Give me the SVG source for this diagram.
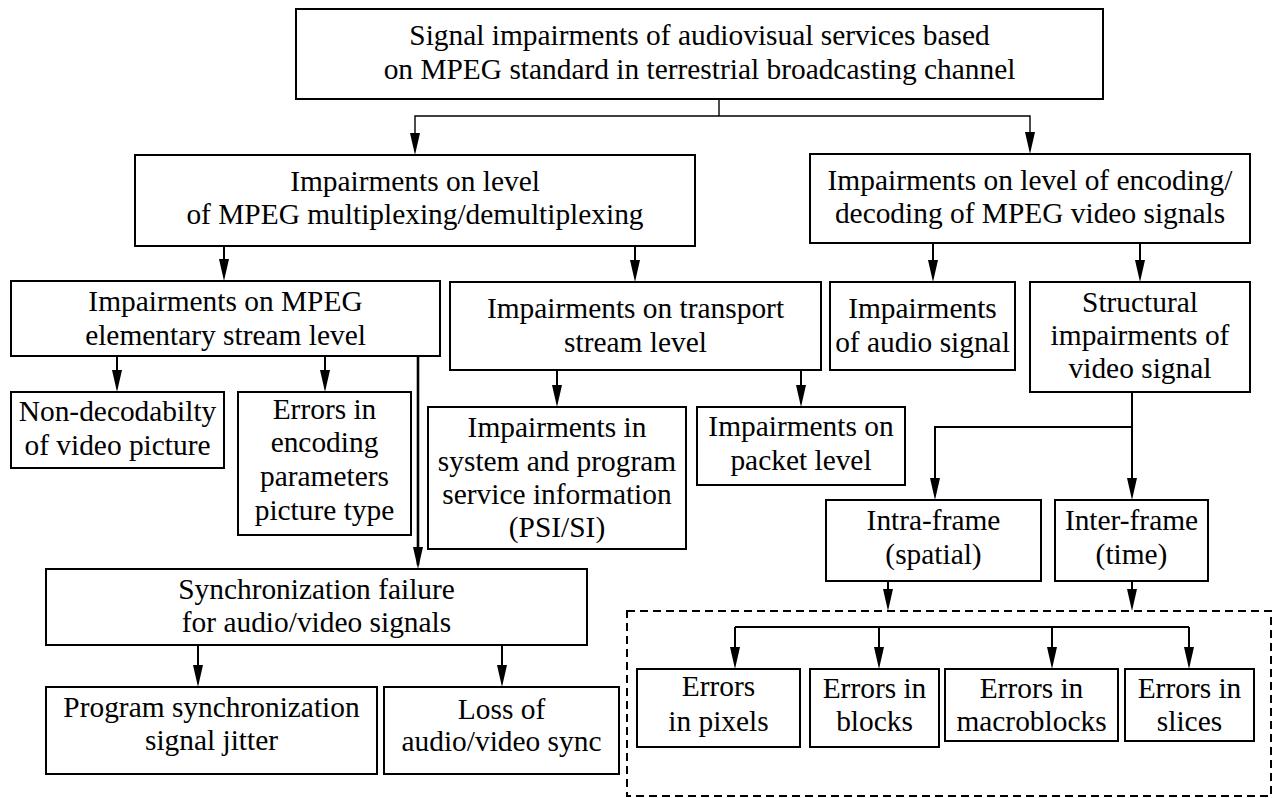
<svg xmlns="http://www.w3.org/2000/svg" width="1273" height="798" viewBox="0 0 1273 798">
<style>
.box{fill:#fff;stroke:#000;stroke-width:2}
.t{font-family:'Liberation Serif','Times New Roman',Times,'DejaVu Serif',serif;font-size:29.4px;fill:#000;text-anchor:middle}
.c{fill:none;stroke:#000;stroke-width:2}
.thin{stroke-width:1.4}
.thick{stroke-width:2.6}
.arr{marker-end:url(#ah)}
.dash{fill:none;stroke:#000;stroke-width:2;stroke-dasharray:8 5}
</style>
<defs>
<marker id="ah" viewBox="0 0 22 10" refX="18" refY="5" markerWidth="22" markerHeight="10" markerUnits="userSpaceOnUse" orient="auto">
<path d="M0,0 L22,5 L0,10 z" fill="#000"/>
</marker>
</defs>
<rect width="1273" height="798" fill="#fff"/>
<g id="connectors">
<polyline class="c thin" points="719,99 719,116"/>
<polyline class="c thin arr" points="719,116 415,116 415,151"/>
<polyline class="c thin arr" points="719,116 1030,116 1030,150"/>
<line class="c arr" x1="224" y1="246" x2="224" y2="277"/>
<line class="c arr" x1="635" y1="246" x2="635" y2="278"/>
<line class="c arr" x1="933" y1="243" x2="933" y2="278"/>
<line class="c arr" x1="1140" y1="243" x2="1140" y2="278"/>
<line class="c arr" x1="117" y1="356" x2="117" y2="388"/>
<line class="c arr" x1="325" y1="356" x2="325" y2="388"/>
<line class="c thick arr" x1="418" y1="356" x2="418" y2="565"/>
<line class="c arr" x1="557" y1="370" x2="557" y2="403"/>
<line class="c arr" x1="801" y1="370" x2="801" y2="403"/>
<line class="c" x1="1132" y1="392" x2="1132" y2="427"/>
<line class="c arr" x1="1132" y1="427" x2="1132" y2="496"/>
<polyline class="c arr" points="1132,427 935,427 935,496"/>
<line class="c arr" x1="888" y1="581" x2="888" y2="607"/>
<line class="c arr" x1="1132" y1="581" x2="1132" y2="607"/>
<line class="c" x1="735" y1="627" x2="1189" y2="627"/>
<line class="c arr" x1="735" y1="627" x2="735" y2="665"/>
<line class="c arr" x1="879" y1="627" x2="879" y2="665"/>
<line class="c arr" x1="1052" y1="627" x2="1052" y2="665"/>
<line class="c arr" x1="1189" y1="627" x2="1189" y2="665"/>
<line class="c arr" x1="198" y1="645" x2="198" y2="683"/>
<line class="c arr" x1="502" y1="645" x2="502" y2="683"/>
</g>
<g id="group-dashed">
<rect class="dash" x="627" y="611" width="644" height="185"/>
</g>
<g id="n-root">
<rect class="box" x="296" y="9" width="807" height="90"/>
<text class="t" x="699.5" y="45">Signal impairments of audiovisual services based</text>
<text class="t" x="699.5" y="79">on MPEG standard in terrestrial broadcasting channel</text>
</g>
<g id="n-mux">
<rect class="box" x="135" y="155" width="560" height="91"/>
<text class="t" x="415" y="191">Impairments on level</text>
<text class="t" x="415" y="224">of MPEG multiplexing/demultiplexing</text>
</g>
<g id="n-enc">
<rect class="box" x="810" y="154" width="440" height="89"/>
<text class="t" x="1030" y="190">Impairments on level of encoding/</text>
<text class="t" x="1030" y="223">decoding of MPEG video signals</text>
</g>
<g id="n-es">
<rect class="box" x="11" y="281" width="429" height="75"/>
<text class="t" x="225.5" y="311">Impairments on MPEG</text>
<text class="t" x="225.5" y="345">elementary stream level</text>
</g>
<g id="n-ts">
<rect class="box" x="450" y="282" width="371" height="88"/>
<text class="t" x="635.5" y="318">Impairments on transport</text>
<text class="t" x="635.5" y="352">stream level</text>
</g>
<g id="n-audio">
<rect class="box" x="830" y="282" width="185" height="88"/>
<text class="t" x="922.5" y="318">Impairments</text>
<text class="t" x="922.5" y="352">of audio signal</text>
</g>
<g id="n-struct">
<rect class="box" x="1030" y="282" width="220" height="110"/>
<text class="t" x="1140" y="312">Structural</text>
<text class="t" x="1140" y="345">impairments of</text>
<text class="t" x="1140" y="378">video signal</text>
</g>
<g id="n-nondec">
<rect class="box" x="11" y="392" width="213" height="76"/>
<text class="t" x="117.5" y="421">Non-decodabilty</text>
<text class="t" x="117.5" y="455">of video picture</text>
</g>
<g id="n-errenc">
<rect class="box" x="238" y="392" width="173" height="143"/>
<text class="t" x="324.5" y="419">Errors in</text>
<text class="t" x="324.5" y="452">encoding</text>
<text class="t" x="324.5" y="486">parameters</text>
<text class="t" x="324.5" y="520">picture type</text>
</g>
<g id="n-psi">
<rect class="box" x="428" y="407" width="258" height="142"/>
<text class="t" x="557" y="437">Impairments in</text>
<text class="t" x="557" y="471">system and program</text>
<text class="t" x="557" y="504">service information</text>
<text class="t" x="557" y="537">(PSI/SI)</text>
</g>
<g id="n-packet">
<rect class="box" x="697" y="407" width="208" height="78"/>
<text class="t" x="801" y="436">Impairments on</text>
<text class="t" x="801" y="470">packet level</text>
</g>
<g id="n-intra">
<rect class="box" x="826" y="500" width="215" height="81"/>
<text class="t" x="933.5" y="530">Intra-frame</text>
<text class="t" x="933.5" y="564">(spatial)</text>
</g>
<g id="n-inter">
<rect class="box" x="1055" y="500" width="153" height="81"/>
<text class="t" x="1131.5" y="530">Inter-frame</text>
<text class="t" x="1131.5" y="564">(time)</text>
</g>
<g id="n-pixels">
<rect class="box" x="637" y="669" width="163" height="78"/>
<text class="t" x="718.5" y="696">Errors</text>
<text class="t" x="718.5" y="731">in pixels</text>
</g>
<g id="n-blocks">
<rect class="box" x="810" y="669" width="129" height="78"/>
<text class="t" x="874.5" y="698">Errors in</text>
<text class="t" x="874.5" y="731">blocks</text>
</g>
<g id="n-macro">
<rect class="box" x="945" y="669" width="173" height="72"/>
<text class="t" x="1031.5" y="698">Errors in</text>
<text class="t" x="1031.5" y="731">macroblocks</text>
</g>
<g id="n-slices">
<rect class="box" x="1125" y="669" width="129" height="72"/>
<text class="t" x="1189.5" y="698">Errors in</text>
<text class="t" x="1189.5" y="731">slices</text>
</g>
<g id="n-sync">
<rect class="box" x="46" y="569" width="541" height="76"/>
<text class="t" x="316.5" y="599">Synchronization failure</text>
<text class="t" x="316.5" y="632">for audio/video signals</text>
</g>
<g id="n-jitter">
<rect class="box" x="46" y="687" width="331" height="87"/>
<text class="t" x="211.5" y="717">Program synchronization</text>
<text class="t" x="211.5" y="750">signal jitter</text>
</g>
<g id="n-loss">
<rect class="box" x="384" y="687" width="235" height="87"/>
<text class="t" x="501.5" y="719">Loss of</text>
<text class="t" x="501.5" y="751">audio/video sync</text>
</g>
</svg>
